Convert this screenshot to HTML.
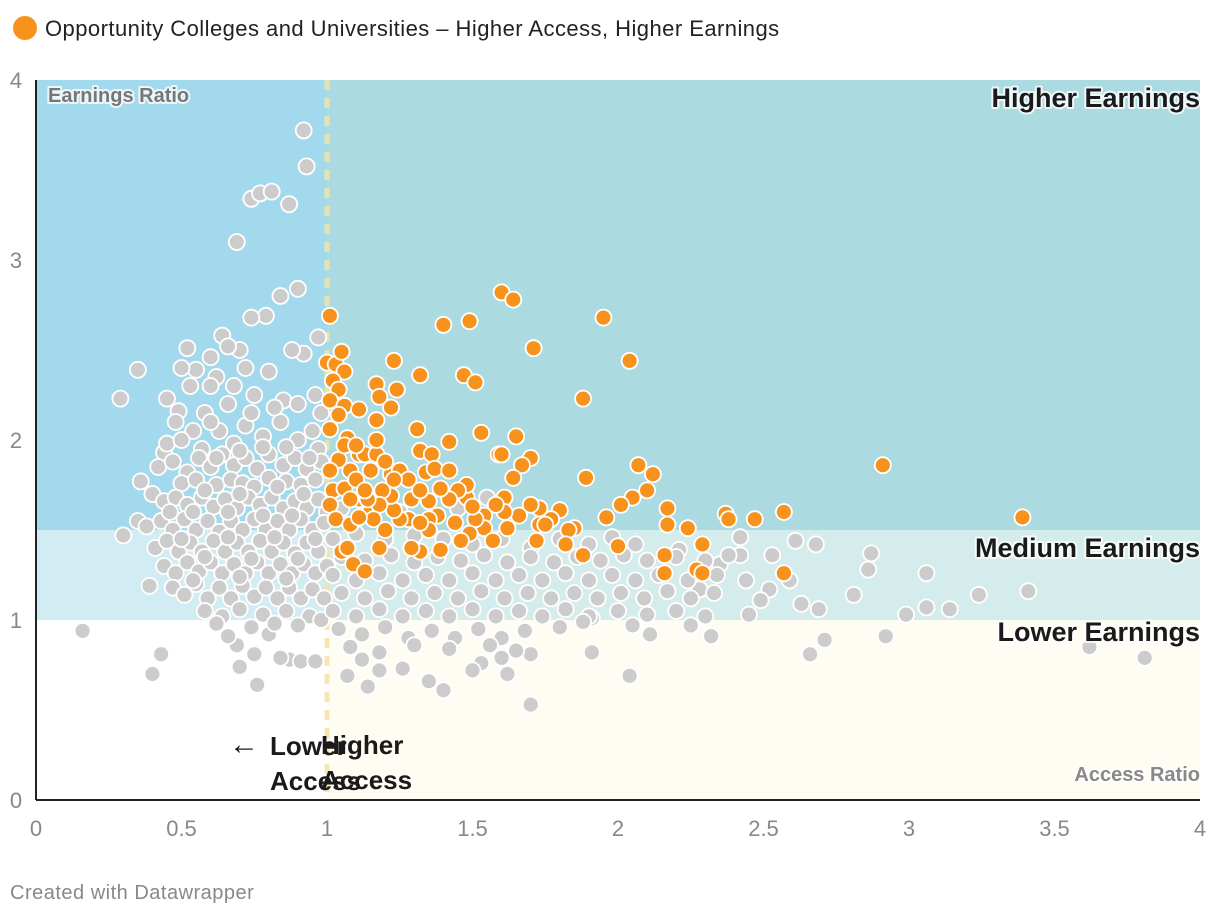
<!DOCTYPE html>
<html><head><meta charset="utf-8"><style>
body{margin:0;background:#fff;font-family:"Liberation Sans",sans-serif;}
svg{display:block}
</style></head><body>
<svg id="chart" width="1220" height="916">
<g id="bg"></g>
<g id="pts"></g>
<g id="ann"></g>
</svg>
<script>
const xTicks=[0,0.5,1,1.5,2,2.5,3,3.5,4];
const yTicks=[0,1,2,3,4];
const grayPts=[0.29,2.23,0.35,2.39,0.16,0.94,0.40,0.70,0.43,0.81,0.92,3.72,0.93,3.52,0.74,3.34,0.77,3.37,0.81,3.38,0.87,3.31,0.69,3.10,0.90,2.84,0.84,2.80,0.79,2.69,0.74,2.68,0.64,2.58,0.52,2.51,0.97,2.57,
3.41,1.16,3.24,1.14,3.62,0.85,3.81,0.79,3.06,1.26,3.06,1.07,3.14,1.06,2.99,1.03,2.92,0.91,2.87,1.37,2.86,1.28,2.81,1.14,2.71,0.89,2.66,0.81,2.69,1.06,2.63,1.09,2.68,1.42,2.61,1.44,2.53,1.36,2.59,1.22,2.52,1.17,2.45,1.03,2.49,1.11,2.42,1.46,2.42,1.36,2.35,1.31,2.32,0.91,2.28,1.17,2.21,1.39,2.11,0.92,2.05,0.97,2.04,0.69,1.91,0.82,1.91,1.01,1.70,0.53,1.70,0.81,1.60,0.79,1.53,0.76,1.40,0.61,1.35,0.66,1.26,0.73,1.14,0.63,1.07,0.69,1.12,0.78,0.70,0.74,0.69,0.86,0.76,0.64,0.87,0.78,0.84,0.79,0.91,0.77,0.96,0.77,0.66,0.91,0.80,0.92,0.75,0.81,0.39,1.19,0.30,1.47,0.35,1.55,0.36,1.77,0.44,1.93,0.45,2.23,0.49,2.16,0.55,2.39,0.50,2.40,0.60,2.46,
0.53,2.3,0.62,2.35,0.68,2.3,0.72,2.4,0.8,2.38,0.85,2.22,0.9,2.2,0.96,2.25,0.66,2.2,0.58,2.15,0.75,2.25,0.92,2.48,0.88,2.5,0.7,2.5,0.66,2.52,0.6,2.3,0.48,2.1,0.54,2.05,
0.45,1.98,0.5,2.0,0.57,1.95,0.63,2.05,0.68,1.98,0.72,2.08,0.78,2.02,0.84,2.1,0.9,2.0,0.95,2.05,0.98,2.15,0.6,2.1,0.74,2.15,0.82,2.18,0.97,1.95,
0.42,1.85,0.47,1.88,0.52,1.82,0.56,1.9,0.6,1.85,0.64,1.92,0.68,1.86,0.72,1.9,0.76,1.84,0.8,1.92,0.85,1.86,0.89,1.9,0.93,1.84,0.98,1.88,0.5,1.76,0.55,1.78,0.62,1.75,0.67,1.78,0.71,1.76,0.75,1.74,0.8,1.79,0.86,1.77,0.91,1.75,0.96,1.78,
0.4,1.7,0.44,1.66,0.48,1.68,0.52,1.64,0.57,1.68,0.61,1.63,0.65,1.67,0.69,1.62,0.73,1.68,0.77,1.64,0.81,1.68,0.85,1.62,0.89,1.66,0.93,1.62,0.97,1.67,1.0,1.6,
0.38,1.52,0.43,1.55,0.47,1.5,0.51,1.56,0.55,1.5,0.59,1.55,0.63,1.49,0.67,1.55,0.71,1.5,0.75,1.56,0.79,1.5,0.83,1.55,0.87,1.5,0.91,1.56,0.95,1.5,0.99,1.54,
0.41,1.4,0.45,1.44,0.49,1.38,0.53,1.43,0.57,1.38,0.61,1.44,0.65,1.38,0.69,1.43,0.73,1.38,0.77,1.44,0.81,1.38,0.85,1.43,0.89,1.37,0.93,1.43,0.97,1.38,
0.44,1.3,0.48,1.26,0.52,1.32,0.56,1.27,0.6,1.32,0.64,1.26,0.68,1.31,0.72,1.26,0.76,1.32,0.8,1.26,0.84,1.31,0.88,1.26,0.92,1.31,0.96,1.26,1.0,1.3,
0.47,1.18,0.51,1.14,0.55,1.2,0.59,1.12,0.63,1.18,0.67,1.12,0.71,1.19,0.75,1.13,0.79,1.18,0.83,1.12,0.87,1.18,0.91,1.12,0.95,1.17,0.99,1.12,0.58,1.05,0.64,1.02,0.7,1.06,0.78,1.03,0.86,1.05,0.94,1.02,0.62,0.98,0.74,0.96,0.82,0.98,0.9,0.97,0.98,1.0,
1.05,1.62,1.15,1.65,1.25,1.6,1.45,1.62,1.55,1.68,
1.02,1.45,1.1,1.48,1.2,1.45,1.3,1.47,1.4,1.45,1.5,1.42,1.6,1.45,1.7,1.4,1.8,1.45,1.9,1.42,1.98,1.46,2.06,1.42,
1.05,1.35,1.13,1.33,1.22,1.36,1.3,1.32,1.38,1.35,1.46,1.33,1.54,1.36,1.62,1.32,1.7,1.35,1.78,1.32,1.86,1.35,1.94,1.33,2.02,1.36,2.1,1.33,2.2,1.35,2.3,1.33,2.38,1.36,
1.02,1.25,1.1,1.22,1.18,1.26,1.26,1.22,1.34,1.25,1.42,1.22,1.5,1.26,1.58,1.22,1.66,1.25,1.74,1.22,1.82,1.26,1.9,1.22,1.98,1.25,2.06,1.22,2.14,1.25,2.24,1.22,2.34,1.25,2.44,1.22,
1.05,1.15,1.13,1.12,1.21,1.16,1.29,1.12,1.37,1.15,1.45,1.12,1.53,1.16,1.61,1.12,1.69,1.15,1.77,1.12,1.85,1.15,1.93,1.12,2.01,1.15,2.09,1.12,2.17,1.16,2.25,1.12,2.33,1.15,
1.02,1.05,1.1,1.02,1.18,1.06,1.26,1.02,1.34,1.05,1.42,1.02,1.5,1.06,1.58,1.02,1.66,1.05,1.74,1.02,1.82,1.06,1.9,1.02,2.0,1.05,2.1,1.03,2.2,1.05,2.3,1.02,
1.04,0.95,1.12,0.92,1.2,0.96,1.28,0.9,1.36,0.94,1.44,0.9,1.52,0.95,1.6,0.9,1.68,0.94,1.8,0.96,1.88,0.99,2.25,0.97,
1.08,0.85,1.18,0.82,1.3,0.86,1.42,0.84,1.56,0.86,1.65,0.83,1.18,0.72,1.5,0.72,1.62,0.70,
0.54,1.6,0.58,1.72,0.66,1.6,0.7,1.7,0.78,1.58,0.83,1.74,0.88,1.58,0.92,1.7,0.46,1.6,0.62,1.9,0.7,1.94,0.78,1.96,0.86,1.96,0.94,1.9,0.5,1.45,0.66,1.46,0.82,1.46,0.96,1.45,0.58,1.35,0.74,1.34,0.9,1.34,0.54,1.22,0.7,1.24,0.86,1.23];
const orangePts=[1.01,2.69,1.00,2.43,1.03,2.42,1.05,2.49,1.06,2.38,1.02,2.33,1.04,2.28,1.01,2.22,1.06,2.19,1.04,2.14,1.01,2.06,1.07,2.01,1.04,1.89,1.01,1.83,1.02,1.72,1.06,1.73,1.01,1.64,1.03,1.56,1.05,1.38,1.09,1.31,1.13,1.27,1.11,1.92,1.08,1.83,1.11,1.67,1.15,1.61,1.08,1.53,1.13,1.92,1.17,1.92,1.17,2.00,1.17,2.11,1.11,2.17,1.17,2.31,1.18,2.24,1.22,2.18,1.23,2.44,1.24,2.28,1.32,2.36,1.31,2.06,1.32,1.94,1.36,1.92,1.42,1.99,1.40,2.64,1.49,2.66,1.47,2.36,1.51,2.32,1.53,2.04,1.59,1.92,1.60,1.92,1.60,2.82,1.64,2.78,1.71,2.51,1.65,2.02,1.70,1.90,1.67,1.86,1.64,1.79,1.95,2.68,2.04,2.44,1.88,2.23,1.89,1.79,2.07,1.86,2.12,1.81,2.10,1.72,2.05,1.68,2.01,1.64,1.96,1.57,2.00,1.41,2.17,1.62,2.17,1.53,2.16,1.36,2.16,1.26,2.24,1.51,2.27,1.28,2.29,1.42,2.29,1.26,2.37,1.59,2.38,1.56,2.47,1.56,2.57,1.26,2.57,1.60,2.91,1.86,3.39,1.57,1.88,1.36,1.85,1.51,1.83,1.50,1.82,1.42,1.80,1.61,1.77,1.56,1.73,1.62,1.73,1.53,1.70,1.64,1.66,1.58,1.61,1.68,1.61,1.60,1.58,1.64,1.54,1.58,1.54,1.51,1.51,1.56,1.49,1.48,1.46,1.44,1.48,1.68,1.48,1.75,1.45,1.72,1.42,1.67,1.39,1.73,1.35,1.66,1.38,1.58,1.35,1.56,1.35,1.50,1.32,1.38,1.39,1.39,1.29,1.40,1.28,1.56,1.29,1.67,1.25,1.56,1.23,1.61,1.22,1.69,1.22,1.81,1.25,1.83,1.28,1.78,1.19,1.72,1.18,1.64,1.16,1.56,1.20,1.50,1.18,1.40,1.14,1.67,1.11,1.57,1.08,1.67,1.10,1.78,1.13,1.72,1.06,1.97,1.10,1.97,1.15,1.83,1.20,1.88,1.23,1.78,1.32,1.72,1.34,1.82,1.37,1.84,1.42,1.83,1.32,1.54,1.44,1.54,1.50,1.63,1.57,1.44,1.62,1.51,1.72,1.44,1.75,1.53,1.07,1.40];

const NS='http://www.w3.org/2000/svg';
const X0=36,X1=1200,Y0=800,Y1=80;
const sx=v=>X0+(v-0)/(4-0)*(X1-X0);
const sy=v=>Y0-(v-0)/(4-0)*(Y0-Y1);
const svg=document.getElementById('chart');
function mk(tag,attrs,parent,text){const e=document.createElementNS(NS,tag);for(const k in attrs)e.setAttribute(k,attrs[k]);if(text!==undefined)e.textContent=text;parent.appendChild(e);return e;}
const bg=document.getElementById('bg');
let r;
r=mk('rect',{x:sx(0),y:sy(4),width:sx(1)-sx(0),height:sy(1.5)-sy(4),fill:'#a3d9ec'},bg);

r=mk('rect',{x:sx(1),y:sy(4),width:sx(4)-sx(1),height:sy(1.5)-sy(4),fill:'#acdae1'},bg);

r=mk('rect',{x:sx(0),y:sy(1.5),width:sx(1)-sx(0),height:sy(1)-sy(1.5),fill:'#d2ecf4'},bg);

r=mk('rect',{x:sx(1),y:sy(1.5),width:sx(4)-sx(1),height:sy(1)-sy(1.5),fill:'#d5ecec'},bg);

r=mk('rect',{x:sx(1),y:sy(1),width:sx(4)-sx(1),height:sy(0)-sy(1),fill:'#fffcf4'},bg);

r=mk('line',{x1:sx(1),x2:sx(1),y1:sy(4),y2:sy(0),stroke:'#f3e4a6',"stroke-width":5,"stroke-dasharray":"10 8",opacity:0.85},bg);


const pts=document.getElementById('pts');
for(let i=0;i<grayPts.length;i+=2){
 const c=mk('circle',{cx:sx(grayPts[i]),cy:sy(grayPts[i+1]),r:8,fill:'#cccccc',stroke:'#fff',"stroke-width":1.8},pts);
 
 
}
for(let i=0;i<orangePts.length;i+=2){
 const c=mk('circle',{cx:sx(orangePts[i]),cy:sy(orangePts[i+1]),r:8,fill:'#f7931d',stroke:'#fff',"stroke-width":1.8},pts);
 
 
}
const ann=document.getElementById('ann');
mk('line',{x1:X0,x2:X0,y1:Y1,y2:Y0,stroke:'#222','stroke-width':2},ann);
mk('line',{x1:X0,x2:X1,y1:Y0,y2:Y0,stroke:'#222','stroke-width':2},ann);
yTicks.forEach(v=>{const t=mk('text',{x:16,y:sy(v)+8,'text-anchor':'middle','font-size':22,fill:'#888'},ann,String(v));
 });
xTicks.forEach(v=>{const t=mk('text',{x:sx(v),y:836,'text-anchor':'middle','font-size':22,fill:'#888'},ann,String(v));
 });
function lab(txt,x,y,anchor,size,fill,halo,name){
 if(halo){const h=mk('text',{x,y,'text-anchor':anchor,'font-size':size,'font-weight':'bold',fill:'none',stroke:'#fff','stroke-width':4,'stroke-linejoin':'round',opacity:0.8},ann,txt);}
 const t=mk('text',{x,y,'text-anchor':anchor,'font-size':size,'font-weight':'bold',fill},ann,txt);
 return t;}
lab('Earnings Ratio',48,102,'start',20,'#777',true,'y-axis-title');
lab('Access Ratio',1200,781,'end',20,'#888',true,'x-axis-title');
lab('Higher Earnings',1200,107,'end',27,'#1a1a1a',true,'higher-earnings-label');
lab('Medium Earnings',1200,557,'end',27,'#1a1a1a',true,'medium-earnings-label');
lab('Lower Earnings',1200,641,'end',27,'#1a1a1a',true,'lower-earnings-label');
const ar=mk('text',{x:229,y:754,'font-size':30,fill:'#1a1a1a'},ann,'\u2190');

lab('Lower',270,755,'start',26,'#1a1a1a',false,'lower-access-label-1');
lab('Access',270,790,'start',26,'#1a1a1a',false,'lower-access-label-2');
lab('Higher',321,754,'start',26,'#1a1a1a',false,'higher-access-label-1');
lab('Access',321,789,'start',26,'#1a1a1a',false,'higher-access-label-2');
const lc=mk('circle',{cx:25,cy:28,r:12,fill:'#f7931d'},ann);

const lt=mk('text',{x:45,y:36,'font-size':22,'letter-spacing':0.45,fill:'#222'},ann,'Opportunity Colleges and Universities \u2013 Higher Access, Higher Earnings');

const ft=mk('text',{x:10,y:899,'font-size':20,'letter-spacing':0.5,fill:'#888'},ann,'Created with Datawrapper');

</script>
</body></html>
